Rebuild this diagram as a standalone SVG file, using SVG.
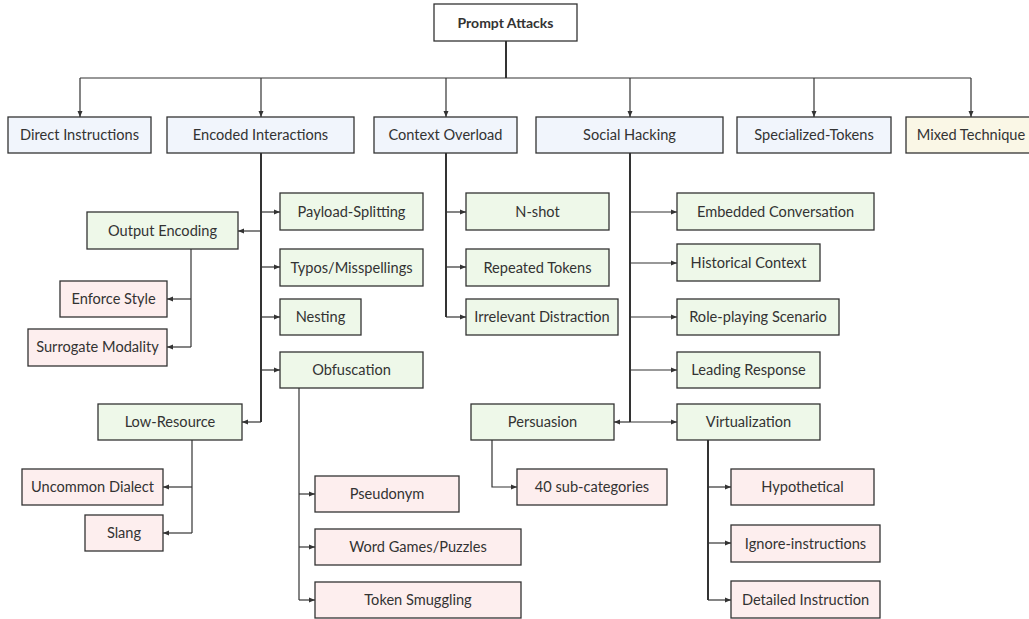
<svg xmlns="http://www.w3.org/2000/svg" width="1029" height="619" viewBox="0 0 1029 619">
<style>
rect{stroke:#333;stroke-width:1.3}
.b{fill:#F1F5FC}.g{fill:#EEF8E9}.p{fill:#FDEEEE}.y{fill:#FAF7E6}.w{fill:#fff}
text{font-family:Lato,"Open Sans",sans-serif;font-size:14.6px;fill:#333;text-anchor:middle;dominant-baseline:central}
.c path{fill:none;stroke:#333;stroke-width:1.2}
.c .t{stroke-width:2}
</style>
<defs>
<marker id="a" viewBox="0 0 6 6" refX="6" refY="3" markerWidth="6" markerHeight="6" markerUnits="userSpaceOnUse" orient="auto"><path d="M0,0.5L6,3L0,5.5z" fill="#333"/></marker>
</defs>
<g class="c">
<path class="t" d="M506,41V78"/>
<path d="M80,78H971"/>
<path d="M80,78V117" marker-end="url(#a)"/>
<path d="M261,78V117" marker-end="url(#a)"/>
<path d="M446,78V117" marker-end="url(#a)"/>
<path d="M630,78V117" marker-end="url(#a)"/>
<path d="M814,78V117" marker-end="url(#a)"/>
<path d="M971,78V117" marker-end="url(#a)"/>
<path class="t" d="M261,153V422"/>
<path d="M261,212H280" marker-end="url(#a)"/>
<path d="M261,231H238" marker-end="url(#a)"/>
<path d="M261,267H280" marker-end="url(#a)"/>
<path d="M261,317H280" marker-end="url(#a)"/>
<path d="M261,370H280" marker-end="url(#a)"/>
<path d="M261,422H242" marker-end="url(#a)"/>
<path d="M191,249V347"/>
<path d="M191,299H167" marker-end="url(#a)"/>
<path d="M191,347H167" marker-end="url(#a)"/>
<path d="M192,440V533"/>
<path d="M192,487H163" marker-end="url(#a)"/>
<path d="M192,533H163" marker-end="url(#a)"/>
<path d="M299,388V600"/>
<path d="M299,494H315" marker-end="url(#a)"/>
<path d="M299,547H315" marker-end="url(#a)"/>
<path d="M299,600H315" marker-end="url(#a)"/>
<path class="t" d="M446,153V317"/>
<path d="M446,212H466" marker-end="url(#a)"/>
<path d="M446,267H466" marker-end="url(#a)"/>
<path d="M446,317H466" marker-end="url(#a)"/>
<path class="t" d="M630,153V422"/>
<path d="M630,212H677" marker-end="url(#a)"/>
<path d="M630,263H677" marker-end="url(#a)"/>
<path d="M630,317H677" marker-end="url(#a)"/>
<path d="M630,370H677" marker-end="url(#a)"/>
<path d="M630,422H677" marker-end="url(#a)"/>
<path d="M630,422H614" marker-end="url(#a)"/>
<path d="M492,440V487H517" marker-end="url(#a)"/>
<path class="t" d="M708,440V600"/>
<path d="M708,487H731" marker-end="url(#a)"/>
<path d="M708,543H731" marker-end="url(#a)"/>
<path d="M708,600H731" marker-end="url(#a)"/>
</g>
<g id="root"><rect class="w" x="434" y="4" width="143" height="37"/><text x="505.5" y="22" style="font-weight:bold;font-size:14px">Prompt Attacks</text></g>
<g id="direct"><rect class="b" x="8" y="117" width="143" height="36"/><text x="79.5" y="134.5">Direct Instructions</text></g>
<g id="encoded"><rect class="b" x="167" y="117" width="187" height="36"/><text x="260.5" y="134.5">Encoded Interactions</text></g>
<g id="context"><rect class="b" x="374" y="117" width="143" height="36"/><text x="445.5" y="134.5">Context Overload</text></g>
<g id="social"><rect class="b" x="536" y="117" width="187" height="36"/><text x="629.5" y="134.5">Social Hacking</text></g>
<g id="special"><rect class="b" x="737" y="117" width="154" height="36"/><text x="814" y="134.5">Specialized-Tokens</text></g>
<g id="mixed"><rect class="y" x="906" y="117" width="130" height="36"/><text x="971" y="134.5">Mixed Technique</text></g>
<g id="payload"><rect class="g" x="280" y="193" width="143" height="37"/><text x="351.5" y="211.5">Payload-Splitting</text></g>
<g id="outenc"><rect class="g" x="87" y="212" width="151" height="37"/><text x="162.5" y="230.5">Output Encoding</text></g>
<g id="typos"><rect class="g" x="280" y="249" width="143" height="37"/><text x="351.5" y="267">Typos/Misspellings</text></g>
<g id="nesting"><rect class="g" x="280" y="299" width="81" height="36"/><text x="320.5" y="316.5">Nesting</text></g>
<g id="obf"><rect class="g" x="280" y="352" width="143" height="36"/><text x="351.5" y="369.5">Obfuscation</text></g>
<g id="lowres"><rect class="g" x="98" y="404" width="144" height="36"/><text x="170" y="421.5">Low-Resource</text></g>
<g id="enforce"><rect class="p" x="60" y="281" width="107" height="36"/><text x="113.5" y="298.5">Enforce Style</text></g>
<g id="surrogate"><rect class="p" x="28" y="329" width="139" height="37"/><text x="97.5" y="346.5">Surrogate Modality</text></g>
<g id="dialect"><rect class="p" x="22" y="469" width="141" height="36"/><text x="92.5" y="486.5">Uncommon Dialect</text></g>
<g id="slang"><rect class="p" x="85" y="515" width="78" height="36"/><text x="124" y="532.5">Slang</text></g>
<g id="pseudonym"><rect class="p" x="315" y="476" width="144" height="36"/><text x="387" y="493.5">Pseudonym</text></g>
<g id="wordgames"><rect class="p" x="315" y="529" width="206" height="36"/><text x="418" y="546.5">Word Games/Puzzles</text></g>
<g id="smuggling"><rect class="p" x="315" y="582" width="206" height="36"/><text x="418" y="599.5">Token Smuggling</text></g>
<g id="nshot"><rect class="g" x="466" y="193" width="143" height="37"/><text x="537.5" y="211.5">N-shot</text></g>
<g id="repeated"><rect class="g" x="466" y="249" width="143" height="37"/><text x="537.5" y="267">Repeated Tokens</text></g>
<g id="irrelevant"><rect class="g" x="466" y="299" width="152" height="36"/><text x="542" y="316.5">Irrelevant Distraction</text></g>
<g id="embedded"><rect class="g" x="677" y="193" width="197" height="37"/><text x="775.5" y="211.5">Embedded Conversation</text></g>
<g id="historical"><rect class="g" x="677" y="244" width="143" height="37"/><text x="748.5" y="262">Historical Context</text></g>
<g id="roleplay"><rect class="g" x="677" y="299" width="162" height="36"/><text x="758" y="316.5">Role-playing Scenario</text></g>
<g id="leading"><rect class="g" x="677" y="352" width="143" height="36"/><text x="748.5" y="369.5">Leading Response</text></g>
<g id="virtual"><rect class="g" x="677" y="404" width="143" height="36"/><text x="748.5" y="421.5">Virtualization</text></g>
<g id="persuasion"><rect class="g" x="471" y="404" width="143" height="36"/><text x="542.5" y="421.5">Persuasion</text></g>
<g id="subcat"><rect class="p" x="517" y="469" width="150" height="36"/><text x="592" y="486.5">40 sub-categories</text></g>
<g id="hypo"><rect class="p" x="731" y="469" width="143" height="36"/><text x="802.5" y="486.5">Hypothetical</text></g>
<g id="ignore"><rect class="p" x="731" y="525" width="149" height="37"/><text x="805.5" y="543">Ignore-instructions</text></g>
<g id="detailed"><rect class="p" x="731" y="581" width="149" height="37"/><text x="805.5" y="599">Detailed Instruction</text></g>
</svg>
